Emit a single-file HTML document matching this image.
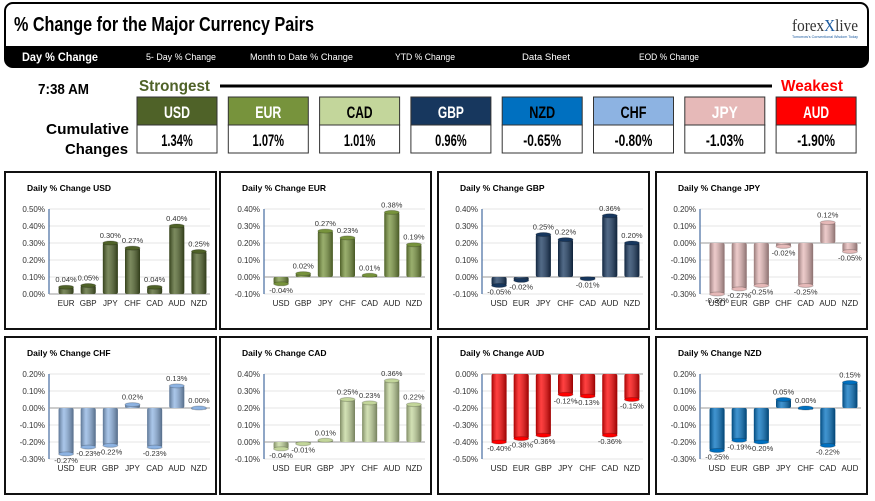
<!DOCTYPE html>
<html><head><meta charset="utf-8"><style>
body{margin:0;background:#fff;}
svg{display:block;font-family:"Liberation Sans",sans-serif;}
</style></head><body>
<svg id="s" width="875" height="501" viewBox="0 0 875 501">
<defs>
<linearGradient id="shade" x1="0" x2="1" y1="0" y2="0">
<stop offset="0" stop-color="#000" stop-opacity="0.35"/><stop offset="0.35" stop-color="#fff" stop-opacity="0.25"/><stop offset="1" stop-color="#000" stop-opacity="0.4"/>
</linearGradient>
</defs>
<g>
<rect x="5" y="3" width="863" height="64" rx="8" fill="#fff" stroke="#000" stroke-width="2"/>
<path d="M5 46 H868 V59 Q868 67 860 67 H13 Q5 67 5 59 Z" fill="#000"/>
<text x="14" y="31" font-size="20" font-weight="bold" textLength="300" lengthAdjust="spacingAndGlyphs">% Change for the Major Currency Pairs</text>
<text x="792" y="31" font-size="17" font-family="Liberation Serif,serif" fill="#333" textLength="66" lengthAdjust="spacingAndGlyphs">forex<tspan fill="#1a5aa0">X</tspan>live</text>
<text x="792" y="38" font-size="4" fill="#1a5aa0" textLength="66" lengthAdjust="spacingAndGlyphs">Tomorrow's Conventional Wisdom Today</text>
<g font-size="9" fill="#fff">
<text x="22" y="61" font-size="12" font-weight="bold" textLength="76" lengthAdjust="spacingAndGlyphs">Day % Change</text>
<text x="146" y="60" textLength="70" lengthAdjust="spacingAndGlyphs">5- Day % Change</text>
<text x="250" y="60" textLength="103" lengthAdjust="spacingAndGlyphs">Month to Date % Change</text>
<text x="395" y="60" textLength="60" lengthAdjust="spacingAndGlyphs">YTD % Change</text>
<text x="522" y="60" textLength="48" lengthAdjust="spacingAndGlyphs">Data Sheet</text>
<text x="639" y="60" textLength="60" lengthAdjust="spacingAndGlyphs">EOD % Change</text>
</g>
</g>
<text x="38" y="94" font-size="15" font-weight="bold" textLength="51" lengthAdjust="spacingAndGlyphs">7:38 AM</text>
<text x="139" y="91" font-size="16" font-weight="bold" fill="#4f6228" textLength="71" lengthAdjust="spacingAndGlyphs">Strongest</text>
<line x1="220" y1="86" x2="772" y2="86" stroke="#000" stroke-width="3"/>
<text x="781" y="91" font-size="16" font-weight="bold" fill="#ff0000" textLength="62" lengthAdjust="spacingAndGlyphs">Weakest</text>
<text x="46" y="134" font-size="15" font-weight="bold" textLength="83" lengthAdjust="spacingAndGlyphs">Cumulative</text>
<text x="65" y="154" font-size="15" font-weight="bold" textLength="63" lengthAdjust="spacingAndGlyphs">Changes</text>
<g id="strip"></g>
<g id="charts"></g>
</svg>
<script>
const ns="http://www.w3.org/2000/svg";
function mk(p,t,a,txt){const e=document.createElementNS(ns,t);for(const k in a)e.setAttribute(k,a[k]);if(txt!=null)e.textContent=txt;p.appendChild(e);return e;}
const stripCurrencies=["USD","EUR","CAD","GBP","NZD","CHF","JPY","AUD"];
const stripValues=[1.34,1.07,1.01,0.96,-0.65,-0.80,-1.03,-1.90];
const colors={USD:"#4f6228",EUR:"#77933c",CAD:"#c3d69b",GBP:"#17375e",NZD:"#0070c0",CHF:"#8db3e2",JPY:"#e6b9b8",AUD:"#ff0000"};
const darkText={CAD:1,CHF:1,NZD:1};
const strip=document.getElementById('strip');
stripCurrencies.forEach((c,i)=>{
  const x=137+i*91.3;
  const g=mk(strip,'g',{});
  
  
  mk(g,'rect',{x:x,y:97,width:80,height:28,fill:colors[c],stroke:'#333','stroke-width':1});
  mk(g,'text',{x:x+40,y:118,'font-size':17,'font-weight':'bold','text-anchor':'middle',fill:darkText[c]?'#000':'#fff',textLength:26,lengthAdjust:'spacingAndGlyphs'},c);
  mk(g,'rect',{x:x,y:125,width:80,height:28,fill:'#fff',stroke:'#333','stroke-width':1});
  const s=stripValues[i].toFixed(2)+'%';
  mk(g,'text',{x:x+40,y:146,'font-size':17,'font-weight':'bold','text-anchor':'middle',textLength:s.length*6.3,lengthAdjust:'spacingAndGlyphs'},s);
});

const chartBases=["USD","EUR","GBP","JPY","CHF","CAD","AUD","NZD"];
const catsUSD=["EUR","GBP","JPY","CHF","CAD","AUD","NZD"];
const valsUSD=[0.04,0.05,0.30,0.27,0.04,0.40,0.25];
const catsEUR=["USD","GBP","JPY","CHF","CAD","AUD","NZD"];
const valsEUR=[-0.04,0.02,0.27,0.23,0.01,0.38,0.19];
const catsGBP=["USD","EUR","JPY","CHF","CAD","AUD","NZD"];
const valsGBP=[-0.05,-0.02,0.25,0.22,-0.01,0.36,0.20];
const catsJPY=["USD","EUR","GBP","CHF","CAD","AUD","NZD"];
const valsJPY=[-0.30,-0.27,-0.25,-0.02,-0.25,0.12,-0.05];
const catsCHF=["USD","EUR","GBP","JPY","CAD","AUD","NZD"];
const valsCHF=[-0.27,-0.23,-0.22,0.02,-0.23,0.13,0.00];
const catsCAD=["USD","EUR","GBP","JPY","CHF","AUD","NZD"];
const valsCAD=[-0.04,-0.01,0.01,0.25,0.23,0.36,0.22];
const catsAUD=["USD","EUR","GBP","JPY","CHF","CAD","NZD"];
const valsAUD=[-0.40,-0.38,-0.36,-0.12,-0.13,-0.36,-0.15];
const catsNZD=["USD","EUR","GBP","JPY","CHF","CAD","AUD"];
const valsNZD=[-0.25,-0.19,-0.20,0.05,0.00,-0.22,0.15];
const axisMin=[0,-0.1,-0.1,-0.3,-0.3,-0.1,-0.5,-0.3];
const axisMax=[0.5,0.4,0.4,0.2,0.2,0.4,0,0.2];
const allCats=[catsUSD,catsEUR,catsGBP,catsJPY,catsCHF,catsCAD,catsAUD,catsNZD];
const allVals=[valsUSD,valsEUR,valsGBP,valsJPY,valsCHF,valsCAD,valsAUD,valsNZD];

const charts=document.getElementById('charts');
const px=[5,220,438,656], py=[172,337];
chartBases.forEach((b,ci)=>{
  const X=px[ci%4], Y=py[Math.floor(ci/4)];
  const g=mk(charts,'g',{transform:`translate(${X},${Y})`});
  
  
  mk(g,'rect',{x:0,y:0,width:211,height:157,fill:'#fff',stroke:'#111','stroke-width':2});
  const t=mk(g,'text',{x:22,y:19,'font-size':8.5,'font-weight':'bold'},'Daily % Change '+b);
  
  
  const lo=axisMin[ci], hi=axisMax[ci], top=37, bot=122, left=44, right=205;
  const ys=v=>bot-(v-lo)/(hi-lo)*(bot-top);
  for(let v=lo;v<=hi+1e-9;v+=0.1){
    const yy=ys(v);
    mk(g,'line',{x1:left,x2:right,y1:yy,y2:yy,stroke:'#ddd','stroke-width':0.7});
    const tl=mk(g,'text',{x:left-4,y:yy+3,'font-size':8,'text-anchor':'end',fill:'#333'},(Math.abs(v)<1e-9?0:v).toFixed(2)+'%');
    
    
  }
  mk(g,'line',{x1:left,x2:left,y1:top,y2:bot,stroke:'#1f4e8c','stroke-width':1});
  const z=ys(0);
  mk(g,'line',{x1:left,x2:right,y1:z,y2:z,stroke:'#999','stroke-width':1});
  const cats=allCats[ci], vals=allVals[ci], slot=(right-left-6)/cats.length;
  cats.forEach((c,i)=>{
    const cx=left+6+slot*(i+0.5), v=vals[i], bw=15;
    const y1=Math.min(ys(v),z), h=Math.max(Math.abs(ys(v)-z),1.5);
    const bar=mk(g,'rect',{x:cx-bw/2,y:y1,width:bw,height:h,fill:colors[b],rx:2});
    
    
    mk(g,'rect',{x:cx-bw/2,y:y1,width:bw,height:h,fill:'url(#shade)',rx:2});
    mk(g,'ellipse',{cx:cx,cy:ys(v),rx:bw/2,ry:2,fill:colors[b],stroke:'#000','stroke-opacity':0.2});
    const ly=v>=0?ys(v)-5:ys(v)+9;
    const vl=mk(g,'text',{x:cx,y:ly,'font-size':7.5,'text-anchor':'middle',fill:'#333'},v.toFixed(2)+'%');
    
    
    const cl=mk(g,'text',{x:cx,y:bot+12,'font-size':8,'text-anchor':'middle',fill:'#222'},c);
    
    
  });
});
</script>
</body></html>
